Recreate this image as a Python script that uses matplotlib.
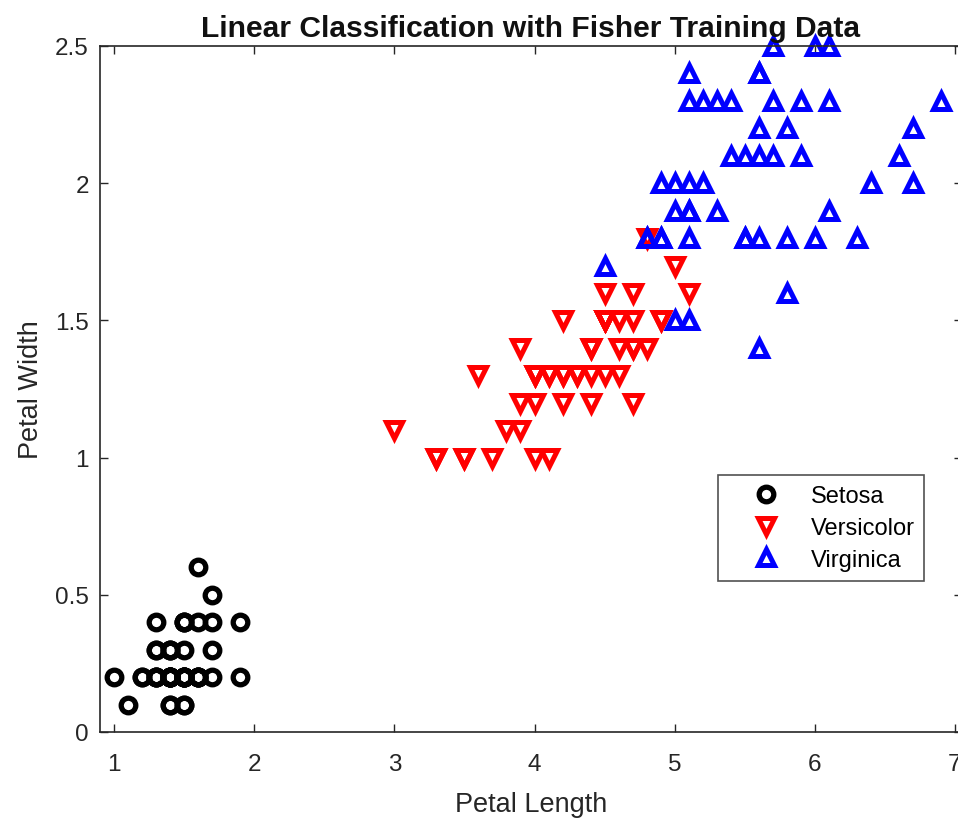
import matplotlib
matplotlib.use("Agg")
import matplotlib.pyplot as plt

plt.rcParams['font.family'] = ['Liberation Sans', 'DejaVu Sans']

# Fisher iris: petal length / petal width
setosa_len = [1.4, 1.4, 1.3, 1.5, 1.4, 1.7, 1.4, 1.5, 1.4, 1.5, 1.5, 1.6, 1.4, 1.1, 1.2,
              1.5, 1.3, 1.4, 1.7, 1.5, 1.7, 1.5, 1.0, 1.7, 1.9, 1.6, 1.6, 1.5, 1.4, 1.6,
              1.6, 1.5, 1.5, 1.4, 1.5, 1.2, 1.3, 1.4, 1.3, 1.5, 1.3, 1.3, 1.3, 1.6, 1.9,
              1.4, 1.6, 1.4, 1.5, 1.4]
setosa_wid = [0.2, 0.2, 0.2, 0.2, 0.2, 0.4, 0.3, 0.2, 0.2, 0.1, 0.2, 0.2, 0.1, 0.1, 0.2,
              0.4, 0.4, 0.3, 0.3, 0.3, 0.2, 0.4, 0.2, 0.5, 0.2, 0.2, 0.4, 0.2, 0.2, 0.2,
              0.2, 0.4, 0.1, 0.2, 0.2, 0.2, 0.2, 0.1, 0.2, 0.2, 0.3, 0.3, 0.2, 0.6, 0.4,
              0.3, 0.2, 0.2, 0.2, 0.2]

versi_len = [4.7, 4.5, 4.9, 4.0, 4.6, 4.5, 4.7, 3.3, 4.6, 3.9, 3.5, 4.2, 4.0, 4.7, 3.6,
             4.4, 4.5, 4.1, 4.5, 3.9, 4.8, 4.0, 4.9, 4.7, 4.3, 4.4, 4.8, 5.0, 4.5, 3.5,
             3.8, 3.7, 3.9, 5.1, 4.5, 4.5, 4.7, 4.4, 4.1, 4.0, 4.4, 4.6, 4.0, 3.3, 4.2,
             4.2, 4.2, 4.3, 3.0, 4.1]
versi_wid = [1.4, 1.5, 1.5, 1.3, 1.5, 1.3, 1.6, 1.0, 1.3, 1.4, 1.0, 1.5, 1.0, 1.4, 1.3,
             1.4, 1.5, 1.0, 1.5, 1.1, 1.8, 1.3, 1.5, 1.2, 1.3, 1.4, 1.4, 1.7, 1.5, 1.0,
             1.1, 1.0, 1.2, 1.6, 1.5, 1.6, 1.5, 1.3, 1.3, 1.3, 1.2, 1.4, 1.2, 1.0, 1.3,
             1.2, 1.3, 1.3, 1.1, 1.3]

virg_len = [6.0, 5.1, 5.9, 5.6, 5.8, 6.6, 4.5, 6.3, 5.8, 6.1, 5.1, 5.3, 5.5, 5.0, 5.1,
            5.3, 5.5, 6.7, 6.9, 5.0, 5.7, 4.9, 6.7, 4.9, 5.7, 6.0, 4.8, 4.9, 5.6, 5.8,
            6.1, 6.4, 5.6, 5.1, 5.6, 6.1, 5.6, 5.5, 4.8, 5.4, 5.6, 5.1, 5.1, 5.9, 5.7,
            5.2, 5.0, 5.2, 5.4, 5.1]
virg_wid = [2.5, 1.9, 2.1, 1.8, 2.2, 2.1, 1.7, 1.8, 1.8, 2.5, 2.0, 1.9, 2.1, 2.0, 2.4,
            2.3, 1.8, 2.2, 2.3, 1.5, 2.3, 2.0, 2.0, 1.8, 2.1, 1.8, 1.8, 1.8, 2.1, 1.6,
            1.9, 2.0, 2.2, 1.5, 1.4, 2.3, 2.4, 1.8, 1.8, 2.1, 2.4, 2.3, 1.9, 2.3, 2.5,
            2.3, 1.9, 2.0, 2.3, 1.8]

x_ticks = [1, 2, 3, 4, 5, 6, 7]
y_ticks = [0, 0.5, 1, 1.5, 2, 2.5]
y_ticklabels = ['0', '0.5', '1', '1.5', '2', '2.5']

fig = plt.figure(figsize=(9.58, 8.2), dpi=100)
ax = fig.add_axes([100 / 958, 87 / 820, 862 / 958, 686 / 820])

ax.plot(setosa_len, setosa_wid, 'o', color='black', mfc='none', ms=10.5, mew=3.8,
        linestyle='none', label='Setosa', clip_on=False)
ax.plot(versi_len, versi_wid, 'v', color='red', mfc='none', ms=12, mew=3.6,
        linestyle='none', label='Versicolor', clip_on=False)
ax.plot(virg_len, virg_wid, '^', color='blue', mfc='none', ms=12, mew=3.6,
        linestyle='none', label='Virginica', clip_on=False)

ax.set_xlim(0.9, 7.05)
ax.set_ylim(0, 2.5)
ax.set_xticks(x_ticks)
ax.set_yticks(y_ticks)
ax.set_yticklabels(y_ticklabels)

gray = '#262626'
ax.tick_params(direction='in', top=True, right=True, length=6, width=1,
               colors=gray, labelsize=17.5)
ax.tick_params(axis='x', pad=15)
ax.tick_params(axis='y', pad=8)
for s in ax.spines.values():
    s.set_color(gray)
    s.set_linewidth(1.2)

ax.set_xlabel('Petal Length', fontsize=19.5, color=gray, labelpad=12)
ax.set_ylabel('Petal Width', fontsize=19.5, color=gray, labelpad=8)
ax.set_title('Linear Classification with Fisher Training Data', fontsize=21.6,
             fontweight='bold', color='#111111', pad=7)

leg = ax.legend(loc='upper left', bbox_to_anchor=((718 - 100) / 862, (733 - 476) / 686),
                fontsize=17, frameon=True, fancybox=False, edgecolor=gray,
                borderpad=0.42, labelspacing=0.42, handletextpad=0.3, handlelength=3.2,
                borderaxespad=0)
leg.get_frame().set_linewidth(1.2)

fig.savefig('out.png', dpi=100)
